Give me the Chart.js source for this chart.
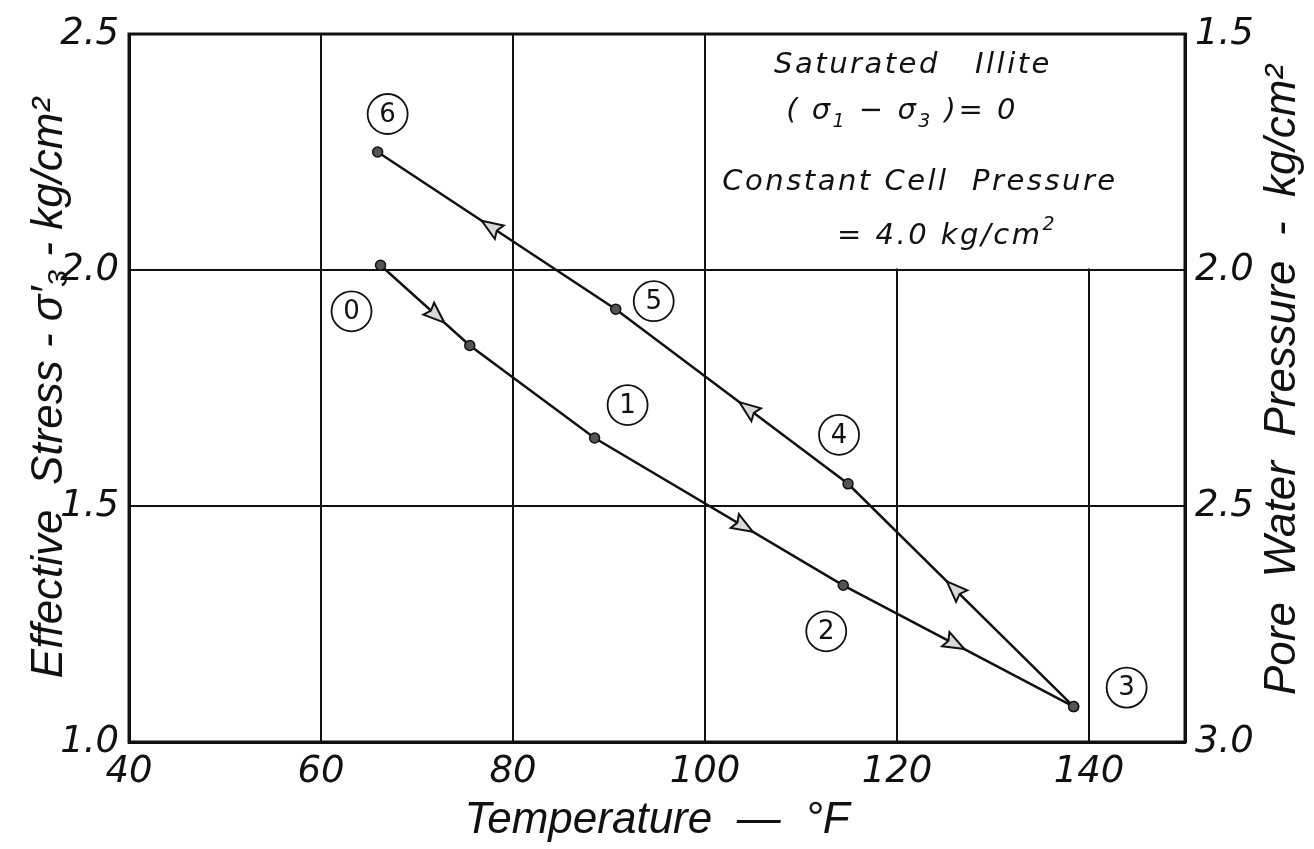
<!DOCTYPE html>
<html>
<head>
<meta charset="utf-8">
<script src="https://cdn.jsdelivr.net/npm/chart.js@4.4.1/dist/chart.umd.min.js"></script>
<style>
  html, body { margin: 0; padding: 0; background: #fff; }
  #wrap { width: 1314px; height: 849px; }
</style>
</head>
<body>
<div id="wrap"><canvas id="c" width="1314" height="849"></canvas></div>
<script>
// Heating leg (stages 0 -> 3) and cooling leg (stages 3 -> 6)
const heatingTemp = [66.2, 75.5, 88.5, 114.4, 138.4];
const heatingStress = [2.01, 1.84, 1.644, 1.332, 1.075];
const heatingStages = ['0', '', '1', '2', '3'];

const coolingTemp = [138.4, 114.9, 90.7, 65.9];
const coolingStress = [1.075, 1.547, 1.917, 2.25];
const coolingStages = ['', '4', '5', '6'];

// Temperatures where direction arrows sit on each leg
const heatingArrowTemps = [72, 104, 126];
const coolingArrowTemps = [126, 104.5, 77.7];

// Axis ticks
const tempTicks = [40, 60, 80, 100, 120, 140];
const stressTicks = [1.0, 1.5, 2.0, 2.5];
const poreTicks = [1.5, 2.0, 2.5, 3.0];

// Cell pressure (kg/cm2): pore pressure = cell pressure - effective stress
const cellPressure = 4.0;

const INK = '#111';
const tickFont = { family: 'DejaVu Sans', size: 37, style: 'italic' };
const titleFont = { family: 'Liberation Sans', size: 44, style: 'italic', lineHeight: 1 };
const poreTitle = 'Pore  Water  Pressure  -  kg/cm²';

// Pixel offsets of the circled stage numbers from their points
const stageLabelOffsets = {
  '0': [-29, 46], '1': [33, -33], '2': [-17, 46], '3': [53, -19],
  '4': [-9, -49], '5': [38, -8], '6': [10, -38]
};

function toPoints(xs, ys) { return xs.map((x, i) => ({ x: x, y: ys[i] })); }

// White note panel over the upper-right grid cells, plus the right-hand axis title
const notePanel = {
  id: 'notePanel',
  beforeDatasetsDraw(chart) {
    const { ctx, chartArea, scales } = chart;
    const x0 = scales.x.getPixelForValue(100) + 1.5;
    const y1 = scales.y.getPixelForValue(2.0) - 1.5;
    ctx.save();
    ctx.fillStyle = '#fff';
    ctx.fillRect(x0, chartArea.top + 1, chartArea.right - 1 - x0, y1 - chartArea.top - 1);
    ctx.restore();
  },
  afterDraw(chart) {
    const { ctx, chartArea, scales } = chart;

    // Right axis title, reading upward
    ctx.save();
    ctx.fillStyle = INK;
    ctx.font = 'italic 44px "Liberation Sans"';
    ctx.textAlign = 'center';
    ctx.textBaseline = 'middle';
    ctx.translate(scales.y2.right - 31, (chartArea.top + chartArea.bottom) / 2 - 8);
    ctx.rotate(-Math.PI / 2);
    ctx.fillText(poreTitle, 0, 0);
    ctx.restore();

    ctx.save();
    ctx.fillStyle = INK;
    ctx.textAlign = 'left';
    ctx.textBaseline = 'alphabetic';
    try { ctx.letterSpacing = '2.5px'; } catch (e) {}
    const main = 'italic 29px "DejaVu Sans"';
    const small = 'italic 19px "DejaVu Sans"';
    const run = (parts, cx, base) => {
      let total = 0;
      parts.forEach(p => { ctx.font = p.font || main; p.w = ctx.measureText(p.t).width; total += p.w; });
      let x = cx - total / 2;
      parts.forEach(p => { ctx.font = p.font || main; ctx.fillText(p.t, x, base + (p.dy || 0)); x += p.w; });
    };
    run([{ t: 'Saturated   Illite' }], 913, 73);
    run([{ t: '( σ' }, { t: '1', font: small, dy: 8 }, { t: ' − σ' }, { t: '3', font: small, dy: 8 }, { t: ' )= 0' }], 902, 119);
    run([{ t: 'Constant Cell  Pressure' }], 920, 190);
    run([{ t: '= 4.0 kg/cm' }, { t: '2', font: small, dy: -14 }], 947, 244);
    ctx.restore();
  }
};

// Direction arrowheads along each leg and circled stage numbers
const cycleMarks = {
  id: 'cycleMarks',
  afterDatasetsDraw(chart) {
    const { ctx, scales } = chart;
    const sx = scales.x, sy = scales.y;
    const legs = [
      { t: heatingTemp, s: heatingStress, arrows: heatingArrowTemps, stages: heatingStages },
      { t: coolingTemp, s: coolingStress, arrows: coolingArrowTemps, stages: coolingStages }
    ];
    ctx.save();
    legs.forEach(leg => {
      leg.arrows.forEach(T => {
        for (let i = 0; i < leg.t.length - 1; i++) {
          const a = leg.t[i], b = leg.t[i + 1];
          if ((T - a) * (T - b) <= 0) {
            const f = (T - a) / (b - a);
            const sv = leg.s[i] + f * (leg.s[i + 1] - leg.s[i]);
            const px = sx.getPixelForValue(T), py = sy.getPixelForValue(sv);
            const x1 = sx.getPixelForValue(a), y1 = sy.getPixelForValue(leg.s[i]);
            const x2 = sx.getPixelForValue(b), y2 = sy.getPixelForValue(leg.s[i + 1]);
            const len = Math.hypot(x2 - x1, y2 - y1);
            const dx = (x2 - x1) / len, dy = (y2 - y1) / len;
            const tipX = px + dx * 11, tipY = py + dy * 11;
            const bx = px - dx * 10, by = py - dy * 10;
            const nx = -dy, ny = dx;
            ctx.beginPath();
            ctx.moveTo(tipX, tipY);
            ctx.lineTo(bx + nx * 8, by + ny * 8);
            ctx.lineTo(bx + dx * 3, by + dy * 3);
            ctx.lineTo(bx - nx * 8, by - ny * 8);
            ctx.closePath();
            ctx.fillStyle = '#d8d8d8';
            ctx.fill();
            ctx.lineWidth = 2;
            ctx.strokeStyle = INK;
            ctx.stroke();
            break;
          }
        }
      });
      leg.stages.forEach((lab, i) => {
        if (!lab) return;
        const off = stageLabelOffsets[lab];
        const cx = sx.getPixelForValue(leg.t[i]) + off[0];
        const cy = sy.getPixelForValue(leg.s[i]) + off[1];
        ctx.beginPath();
        ctx.arc(cx, cy, 20, 0, Math.PI * 2);
        ctx.lineWidth = 1.8;
        ctx.strokeStyle = INK;
        ctx.stroke();
        ctx.fillStyle = INK;
        ctx.font = '26px "DejaVu Sans"';
        ctx.textAlign = 'center';
        ctx.textBaseline = 'middle';
        ctx.fillText(lab, cx, cy + 1);
      });
    });
    ctx.restore();
  },
  afterDraw(chart) {
    const { ctx, chartArea } = chart;
    ctx.save();
    ctx.lineWidth = 3;
    ctx.strokeStyle = INK;
    ctx.strokeRect(chartArea.left, chartArea.top, chartArea.right - chartArea.left, chartArea.bottom - chartArea.top);
    ctx.restore();
  }
};

const lineStyle = {
  borderColor: INK,
  borderWidth: 2.5,
  pointRadius: 5,
  pointBackgroundColor: '#555',
  pointBorderColor: INK,
  pointBorderWidth: 1.5,
  tension: 0,
  fill: false
};

new Chart(document.getElementById('c'), {
  type: 'scatter',
  data: {
    datasets: [
      Object.assign({ label: 'Heating', data: toPoints(heatingTemp, heatingStress), showLine: true, yAxisID: 'y' }, lineStyle),
      Object.assign({ label: 'Cooling', data: toPoints(coolingTemp, coolingStress), showLine: true, yAxisID: 'y' }, lineStyle)
    ]
  },
  options: {
    responsive: false,
    animation: false,
    devicePixelRatio: 1,
    layout: { padding: { top: 34, left: 0, right: 0, bottom: 0 } },
    plugins: { legend: { display: false }, tooltip: { enabled: false } },
    scales: {
      x: {
        type: 'linear', position: 'bottom', min: 40, max: 150,
        afterBuildTicks: s => { s.ticks = tempTicks.map(v => ({ value: v })); },
        afterFit: s => { s.height = 107; },
        grid: { color: INK, lineWidth: 2, drawTicks: false },
        border: { color: INK, width: 3 },
        ticks: { font: tickFont, color: INK, padding: 8, maxRotation: 0, autoSkip: false },
        title: { display: true, text: 'Temperature  —  °F', font: titleFont, color: INK, padding: { top: 0, bottom: 6 } }
      },
      y: {
        type: 'linear', position: 'left', min: 1.0, max: 2.5,
        afterBuildTicks: s => { s.ticks = stressTicks.map(v => ({ value: v })); },
        afterFit: s => { s.width = 129; },
        grid: { color: INK, lineWidth: 2, drawTicks: false },
        border: { color: INK, width: 3 },
        ticks: { font: tickFont, color: INK, padding: 10, callback: v => v.toFixed(1) },
        title: { display: true, text: 'Effective  Stress - σ′₃ - kg/cm²', font: titleFont, color: INK, padding: { top: 28, bottom: 0 } }
      },
      y2: {
        type: 'linear', position: 'right', reverse: true,
        min: cellPressure - 2.5, max: cellPressure - 1.0,
        afterBuildTicks: s => { s.ticks = poreTicks.map(v => ({ value: v })); },
        afterFit: s => { s.width = 129; },
        grid: { display: false, drawTicks: false },
        border: { color: INK, width: 3 },
        ticks: { font: tickFont, color: INK, padding: 10, callback: v => v.toFixed(1) },
        title: { display: false }
      }
    }
  },
  plugins: [notePanel, cycleMarks]
});
</script>
</body>
</html>
